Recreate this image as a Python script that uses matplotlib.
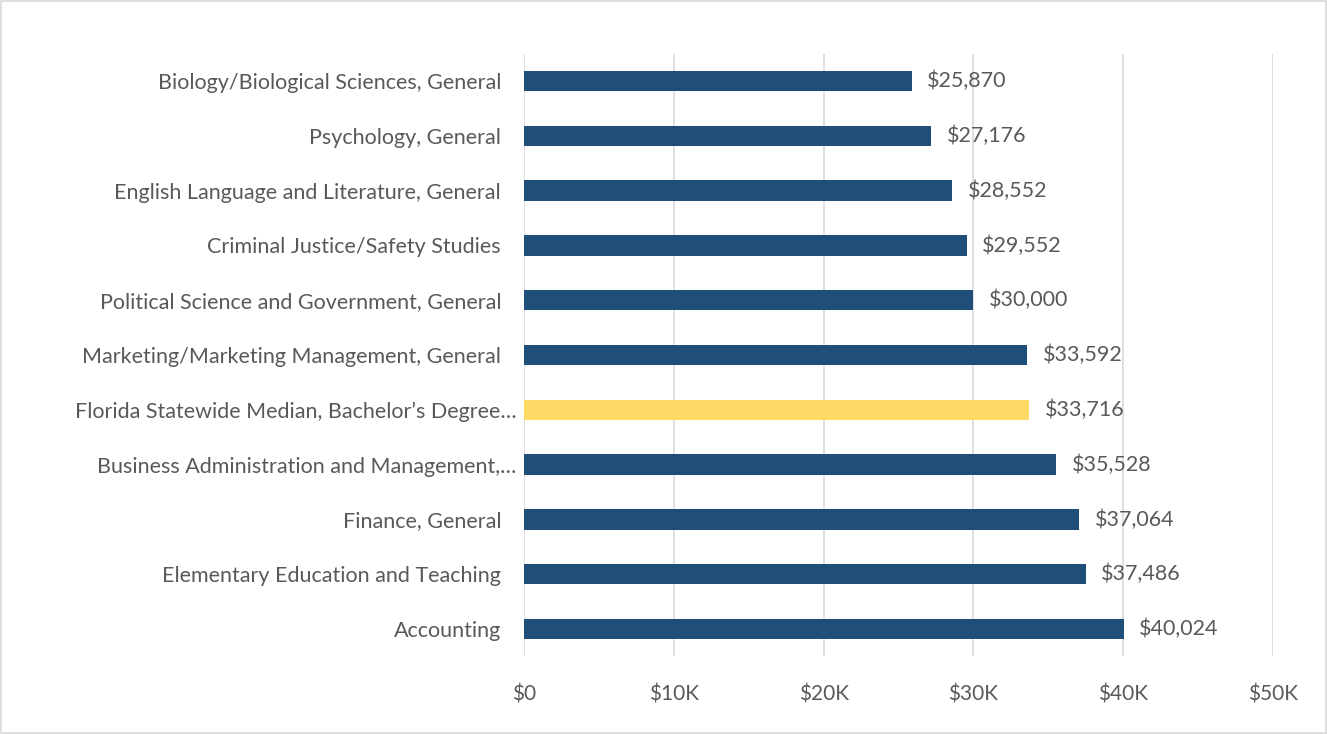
import matplotlib.pyplot as plt
from matplotlib.patches import Rectangle
from matplotlib.ticker import FuncFormatter
from matplotlib.transforms import ScaledTranslation

# categories listed bottom to top, as drawn
majors = ["Accounting",
          "Elementary Education and Teaching",
          "Finance, General",
          "Business Administration and Management,\u2026",
          "Florida Statewide Median, Bachelor\u2019s Degree\u2026",
          "Marketing/Marketing Management, General",
          "Political Science and Government, General",
          "Criminal Justice/Safety Studies",
          "English Language and Literature, General",
          "Psychology, General",
          "Biology/Biological Sciences, General"]
wages = [40024, 37486, 37064, 35528, 33716, 33592, 30000, 29552, 28552, 27176, 25870]
highlight = "Florida Statewide Median, Bachelor\u2019s Degree\u2026"

blue = "#1F4E79"
gold = "#FFD966"
grey = "#595959"

plt.rcParams['font.family'] = ['Lato', 'DejaVu Sans']

fig = plt.figure(figsize=(13.27, 7.34), dpi=100)
ax = fig.add_axes([524/1327, 1 - 656.4/734, (1273 - 524)/1327, (656.4 - 53.6)/734])

colors = [gold if m == highlight else blue for m in majors]
ypos = list(range(len(majors)))
bars = ax.barh(ypos, wages, height=0.37, color=colors, zorder=3)

for y, w in zip(ypos, wages):
    ax.text(w + 1050, y, "${:,}".format(w), va="center", ha="left",
            fontsize=15.5, color=grey)

ax.set_xlim(0, 50000)
ax.set_ylim(-0.5, len(majors) - 0.5)
ax.set_xticks(range(0, 50001, 10000))
ax.xaxis.set_major_formatter(FuncFormatter(lambda v, p: "$0" if v == 0 else "${:d}K".format(int(v / 1000))))
ax.set_yticks(ypos)
ax.set_yticklabels(majors)
ax.tick_params(axis="x", length=0, labelsize=15, labelcolor=grey, pad=20)
ax.tick_params(axis="y", length=0, labelsize=15.5, labelcolor=grey, pad=16.5)
ax.grid(axis="x", color="#D9D9D9", linewidth=1.2, zorder=0)
for s in ax.spines.values():
    s.set_visible(False)

# truncated labels sit a little further right, as in the original chart
for lab in ax.get_yticklabels():
    if lab.get_text().endswith("\u2026"):
        lab.set_transform(lab.get_transform() + ScaledTranslation(0.15, 0, fig.dpi_scale_trans))

# light frame round the whole chart
fig.patches.append(Rectangle((0.001, 0.001), 0.998, 0.997, transform=fig.transFigure,
                             fill=False, edgecolor="#D9D9D9", linewidth=1.2))

fig.savefig("out.png", dpi=100)
